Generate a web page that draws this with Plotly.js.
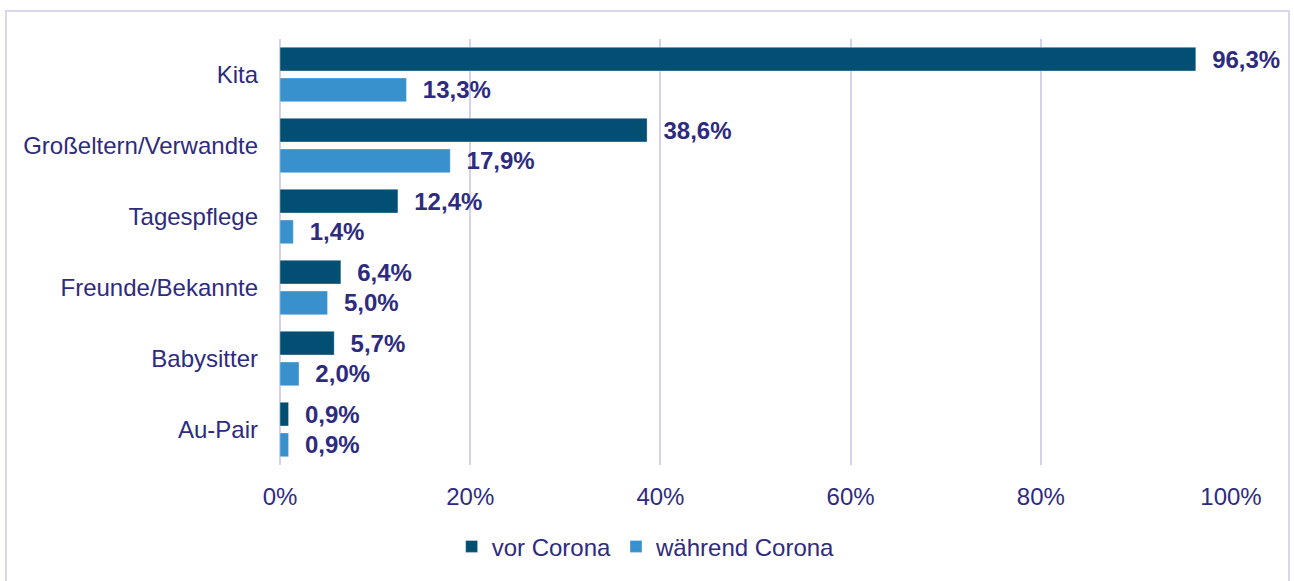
<!DOCTYPE html>
<html><head><meta charset="utf-8">
<script src="https://cdn.plot.ly/plotly-3.0.1.min.js"></script>
<style>
html,body{margin:0;padding:0;background:#fff;}
#frame{position:absolute;left:5px;top:10px;width:1285px;height:575px;border:2px solid #d9d6f0;box-sizing:border-box;}
#chart{position:absolute;left:0;top:0;width:1294px;height:581px;}
</style>
</head><body>
<div id="frame"></div>
<div id="chart"></div>
<script>
const categories = ["Kita", "Großeltern/Verwandte", "Tagespflege", "Freunde/Bekannte", "Babysitter", "Au-Pair"];
const vorCorona = [96.3, 38.6, 12.4, 6.4, 5.7, 0.9];
const waehrendCorona = [13.3, 17.9, 1.4, 5.0, 2.0, 0.9];
const seriesNames = ["vor Corona", "während Corona"];
const xTickVals = [0, 20, 40, 60, 80, 100];
const xTickText = ["0%", "20%", "40%", "60%", "80%", "100%"];

const textColor = "#2e2b7f";
const gridColor = "#d4d0ee";
const font = {family: "Liberation Sans", size: 24, color: textColor};
const labelFont = {family: "Liberation Sans", size: 24, color: textColor, weight: "bold"};

function barTrace(vals, name, color) {
  return {
    type: "bar", orientation: "h", name: name,
    y: categories, x: vals,
    marker: {color: color, line: {color: "rgba(255,255,255,0.35)", width: 1}},
    texttemplate: "\u00a0\u00a0<b>%{x:.1f}%</b>",
    textposition: "outside", textfont: labelFont,
    constraintext: "none", cliponaxis: false,
    hoverinfo: "skip"
  };
}

const data = [
  barTrace(vorCorona, seriesNames[0], "#034f74"),
  barTrace(waehrendCorona, seriesNames[1], "#3891cd")
];

const layout = {
  width: 1294, height: 581,
  margin: {l: 280, r: 63, t: 39, b: 113},
  paper_bgcolor: "rgba(0,0,0,0)", plot_bgcolor: "rgba(0,0,0,0)",
  separators: ",.",
  font: font,
  barmode: "group", bargap: 0.135, bargroupgap: 0.226,
  showlegend: true,
  legend: {orientation: "h", x: 0.385, xanchor: "center", y: -0.192, yanchor: "middle",
           font: font, traceorder: "normal"},
  xaxis: {range: [0, 100], tickvals: xTickVals, ticktext: xTickText, showgrid: true,
          gridcolor: gridColor, gridwidth: 2, zeroline: true, zerolinecolor: gridColor, zerolinewidth: 2,
          showline: false, ticks: "", tickfont: font, ticklabelstandoff: 15, fixedrange: true},
  yaxis: {autorange: "reversed", showgrid: false, zeroline: false, showline: false,
          ticks: "", tickfont: font, ticklabelstandoff: 21, fixedrange: true}
};

Plotly.newPlot("chart", data, layout, {displayModeBar: false, staticPlot: true});
</script>
</body></html>
